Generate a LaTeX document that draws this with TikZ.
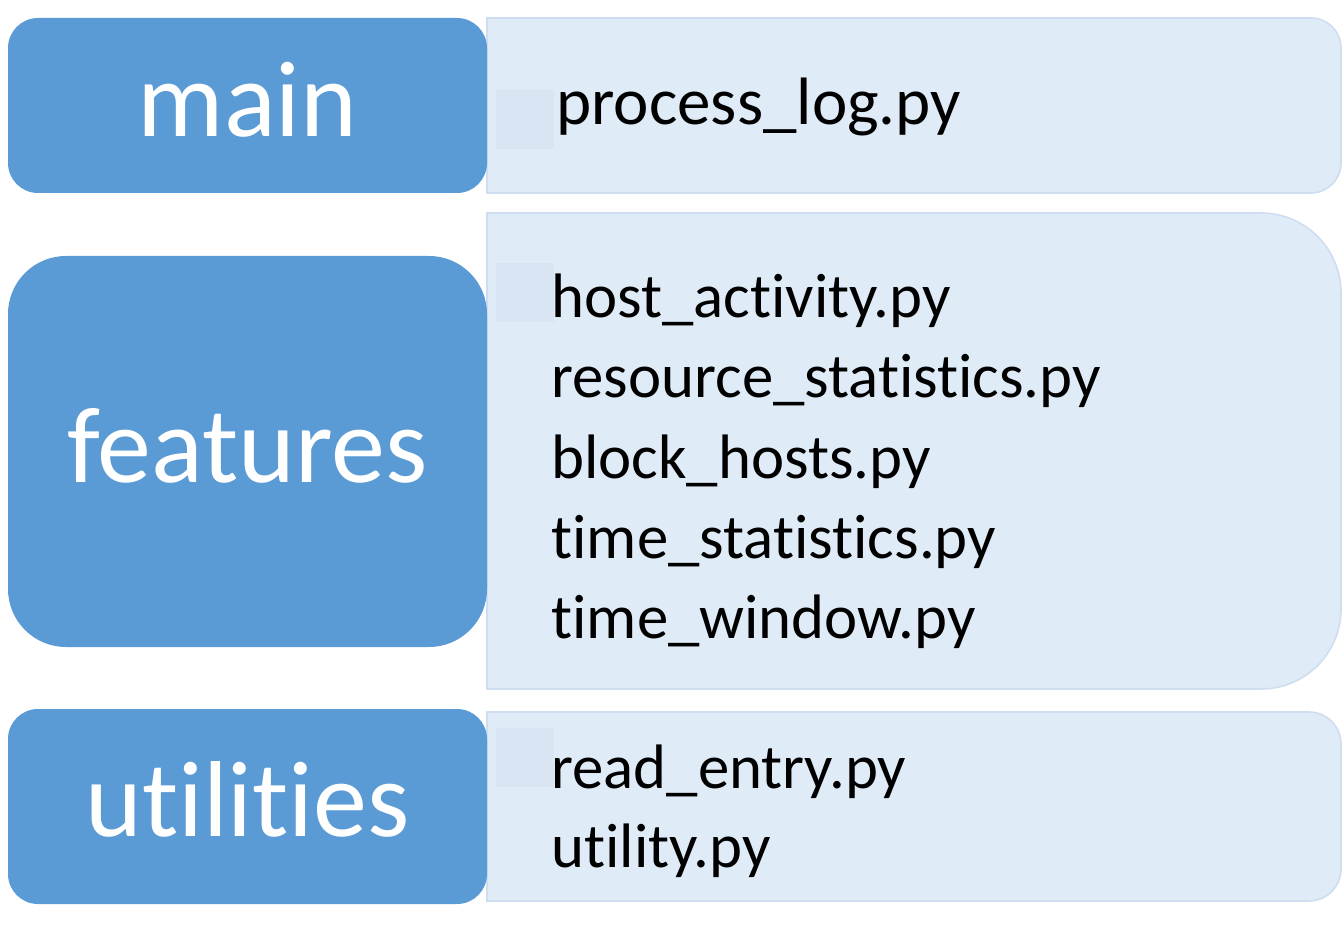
\documentclass[tikz,border=0pt]{standalone}
\usepackage{fontspec}
\setmainfont{Carlito}[Ligatures={NoCommon,NoRare,NoContextual}]
\usetikzlibrary{positioning}

\definecolor{catblue}{HTML}{5B9BD5}
\definecolor{listfill}{HTML}{DFEBF7}
\definecolor{listline}{HTML}{CFDDF0}
\definecolor{bulletfill}{HTML}{D9E5F3}

% light list panel, square on the left, rounded on the right
\newcommand{\listpanel}[2]{%
    \path[fill=listfill,draw=listline,line width=0.8pt]
        (#1.south west) -- (#1.north west)
        -- ([xshift=-#2]#1.north east) arc[start angle=90,end angle=0,radius=#2]
        -- ([yshift=#2]#1.south east) arc[start angle=0,end angle=-90,radius=#2]
        -- cycle;
}

\tikzset{
    catbox/.style={fill=catblue, inner sep=0pt, outer sep=0pt, minimum width=239.5pt},
    catlabel/.style={anchor=base, inner sep=0pt, text=white, font=\fontsize{54}{60}\selectfont},
    listarea/.style={inner sep=0pt, outer sep=0pt, minimum width=427pt},
    bullet/.style={fill=bulletfill, inner sep=0pt, minimum width=29pt, minimum height=29.5pt},
    file/.style={anchor=base west, inner sep=0pt, font=\fontsize{31.4}{37}\selectfont},
}

\begin{document}
\begin{tikzpicture}[x=1pt,y=1pt]
    \useasboundingbox (0,0) rectangle (671.5,466.5);

    % panels on the right
    \node[listarea, minimum height=87.5pt] (mainlist) at (457,413.75) {};
    \node[listarea, minimum height=238pt] (featlist) at (457,241) {};
    \node[listarea, minimum height=94.5pt] (utillist) at (457,63.25) {};
    \listpanel{mainlist}{15pt}
    \listpanel{featlist}{40pt}
    \listpanel{utillist}{16pt}

    \node[bullet] (mainbullet) at (262.5,406.75) {};
    \node[bullet] (featbullet) at (262.5,320) {};
    \node[bullet] (utilbullet) at (262.5,88) {};

    % category boxes on the left
    \node[catbox, rounded corners=15pt, minimum height=87.5pt] (mainbox) at (123.75,413.75) {};
    \node[catbox, rounded corners=29pt, minimum height=195.5pt] (featbox) at (123.75,240.75) {};
    \node[catbox, rounded corners=15pt, minimum height=97.5pt] (utilbox) at (123.75,63.25) {};

    \node[catlabel] (mainlbl) at (123.75,398) {main};
    \node[catlabel] (featlbl) at (123.75,225.5) {features};
    \node[catlabel] (utillbl) at (123.75,48.5) {utilities};

    % file names
    \node[file, font=\fontsize{33.5}{40}\selectfont] (procfile) at (278,404) {process\_log.py};

    \node[file] (hostfile) at (275.5,307.5) {host\_activity.py};
    \node[file] (resfile) at ([yshift=-40pt]hostfile.base west) {resource\_statistics.py};
    \node[file] (blockfile) at ([yshift=-40pt]resfile.base west) {block\_hosts.py};
    \node[file] (timefile) at ([yshift=-40pt]blockfile.base west) {time\_statistics.py};
    \node[file] (winfile) at ([yshift=-40pt]timefile.base west) {time\_window.py};

    \node[file] (readfile) at (275.5,72.5) {read\_entry.py};
    \node[file] (utilfile) at ([yshift=-39.5pt]readfile.base west) {utility.py};
\end{tikzpicture}
\end{document}
